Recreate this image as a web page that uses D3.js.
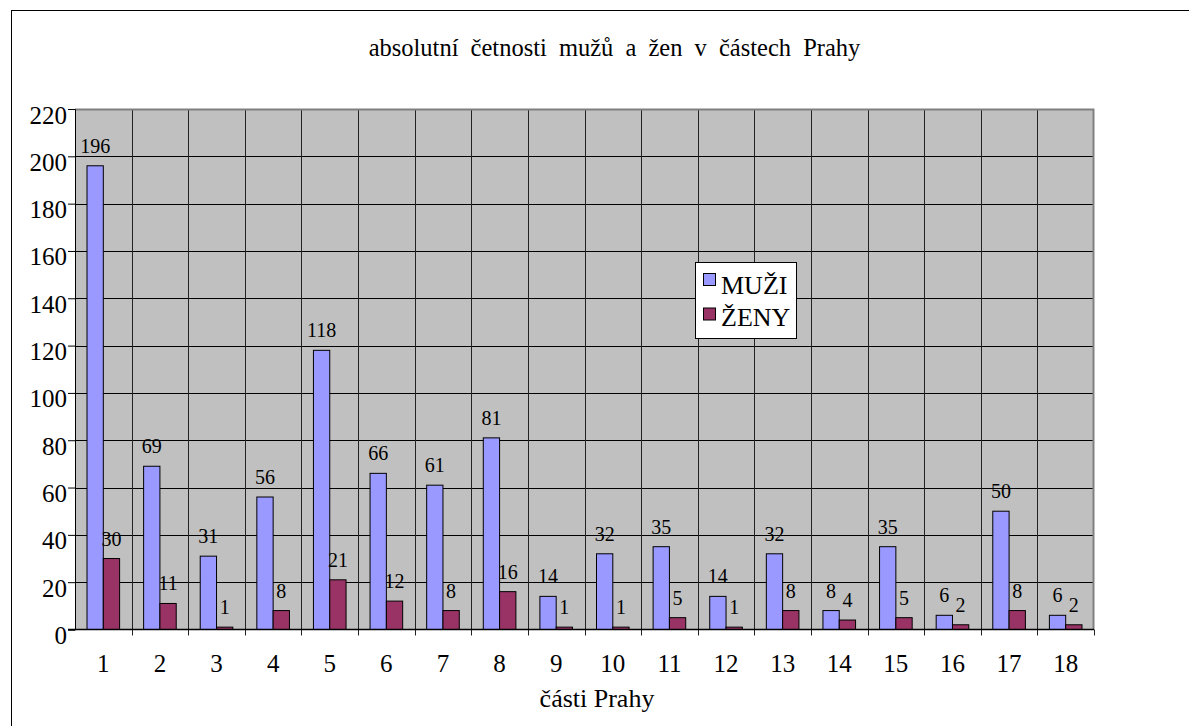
<!DOCTYPE html>
<html>
<head>
<meta charset="utf-8">
<script src="https://cdn.jsdelivr.net/npm/d3@7"></script>
<style>
  body { margin: 0; background: #fff; }
  svg { display: block; }
  svg text { font-family: "Liberation Serif", "Times New Roman", serif; fill: #000; }
</style>
</head>
<body>
<svg id="chart" width="1189" height="726"></svg>
<script>
// data
const categories = ["1","2","3","4","5","6","7","8","9","10","11","12","13","14","15","16","17","18"];
const seriesNames = ["MUŽI", "ŽENY"];
const muzi = [196, 69, 31, 56, 118, 66, 61, 81, 14, 32, 35, 14, 32, 8, 35, 6, 50, 6];
const zeny = [30, 11, 1, 8, 21, 12, 8, 16, 1, 1, 5, 1, 8, 4, 5, 2, 8, 2];
const yTicks = [0, 20, 40, 60, 80, 100, 120, 140, 160, 180, 200, 220];
const colors = ["#9999ff", "#993366"];
const title = "absolutní četnosti mužů a žen v částech Prahy";
const xTitle = "části Prahy";

const svg = d3.select("#chart");
const plot = {left: 75, right: 1094, top: 109, bottom: 629.5};

// outer frame
svg.append("rect")
    .attr("x", 11.5).attr("y", 10.5)
    .attr("width", 1200).attr("height", 800)
    .attr("fill", "none").attr("stroke", "#000");

const x = d3.scaleBand().domain(categories).range([plot.left, plot.right]).padding(0);
const xs = d3.scaleBand().domain(seriesNames).range([0, x.bandwidth()])
    .paddingInner(0).paddingOuter(0.736);
const y = d3.scaleLinear().domain([0, 220]).range([plot.bottom, plot.top]);

// plot background
svg.append("rect")
    .attr("x", plot.left).attr("y", plot.top)
    .attr("width", plot.right - plot.left).attr("height", plot.bottom - plot.top)
    .attr("fill", "#c0c0c0");

// horizontal grid
svg.append("g").selectAll("line").data(yTicks.slice(1)).enter().append("line")
    .attr("x1", plot.left).attr("x2", plot.right)
    .attr("y1", d => Math.round(y(d)) + 0.5).attr("y2", d => Math.round(y(d)) + 0.5)
    .attr("stroke", "#000");

// vertical grid + x ticks
const bounds = categories.slice(1).map(c => x(c));
svg.append("g").selectAll("line").data(bounds).enter().append("line")
    .attr("x1", d => Math.round(d) + 0.5).attr("x2", d => Math.round(d) + 0.5)
    .attr("y1", plot.top).attr("y2", plot.bottom + 6)
    .attr("stroke", "#222");

// plot border top/right
svg.append("path")
    .attr("d", `M${plot.left},${plot.top + 0.5}H${plot.right - 0.5}V${plot.bottom}`)
    .attr("fill", "none").attr("stroke", "#808080").attr("stroke-width", 2);
svg.append("line")
    .attr("x1", plot.right + 0.5).attr("x2", plot.right + 0.5)
    .attr("y1", plot.bottom).attr("y2", plot.bottom + 6).attr("stroke", "#222");

// bars
const rows = categories.map((c, i) => ({cat: c, vals: [muzi[i], zeny[i]]}));
const groups = svg.append("g").selectAll("g").data(rows).enter().append("g")
    .attr("transform", d => `translate(${x(d.cat)},0)`);

groups.selectAll("rect")
    .data(d => d.vals.map((v, j) => ({s: seriesNames[j], v, j})))
    .enter().append("rect")
    .attr("x", d => xs(d.s))
    .attr("y", d => y(d.v))
    .attr("width", xs.bandwidth())
    .attr("height", d => y(0) - y(d.v))
    .attr("fill", d => colors[d.j])
    .attr("stroke", "#000").attr("stroke-width", 1);

groups.selectAll("text")
    .data(d => d.vals.map((v, j) => ({s: seriesNames[j], v, j})))
    .enter().append("text")
    .attr("x", d => xs(d.s) + xs.bandwidth() / 2)
    .attr("y", d => y(d.v) - 13)
    .attr("text-anchor", "middle")
    .attr("font-size", 20)
    .text(d => d.v);

// axes
const yAxis = svg.append("g").attr("transform", `translate(${plot.left},0)`)
    .call(d3.axisLeft(y).tickValues(yTicks).tickSize(7).tickPadding(1));
yAxis.attr("font-family", null);
yAxis.select(".domain").attr("stroke", "#000");
yAxis.selectAll("text").attr("font-size", 25).attr("dy", "0.56em");
yAxis.selectAll(".tick line").attr("stroke", "#000");

svg.append("line")
    .attr("x1", plot.left - 7).attr("x2", plot.right)
    .attr("y1", plot.bottom).attr("y2", plot.bottom)
    .attr("stroke", "#000").attr("stroke-width", 1.5);

svg.append("g").selectAll("text").data(categories).enter().append("text")
    .attr("x", d => x(d) + x.bandwidth() / 2)
    .attr("y", 672)
    .attr("text-anchor", "middle")
    .attr("font-size", 25)
    .text(d => d);

// titles
svg.append("text")
    .attr("x", 614.5).attr("y", 56)
    .attr("text-anchor", "middle")
    .attr("font-size", 24.5)
    .attr("word-spacing", 6)
    .text(title);

svg.append("text")
    .attr("x", 597).attr("y", 707)
    .attr("text-anchor", "middle")
    .attr("font-size", 26)
    .text(xTitle);

// legend
const legend = svg.append("g").attr("transform", "translate(695,262)");
legend.append("rect")
    .attr("x", 0.5).attr("y", 0.5).attr("width", 101).attr("height", 76)
    .attr("fill", "#fff").attr("stroke", "#000");
seriesNames.forEach((s, i) => {
    legend.append("rect")
        .attr("x", 8.5).attr("y", 11.5 + i * 34.5)
        .attr("width", 12).attr("height", 12)
        .attr("fill", colors[i]).attr("stroke", "#000");
    legend.append("text")
        .attr("x", 26).attr("y", 32 + i * 31.5)
        .attr("font-size", 26)
        .text(s);
});
</script>
</body>
</html>
